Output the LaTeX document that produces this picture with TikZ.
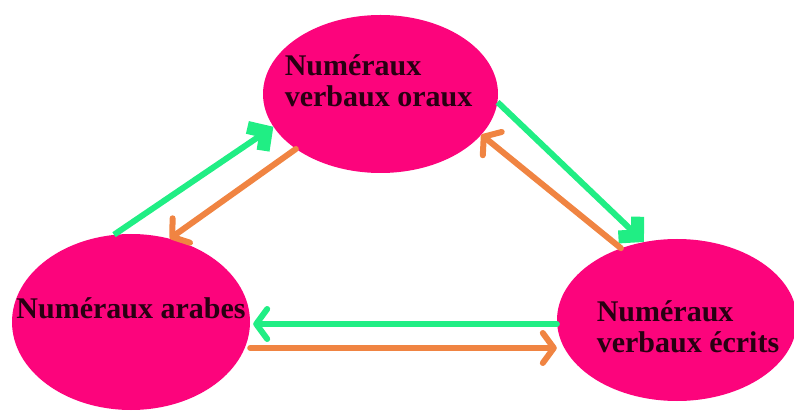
\documentclass[tikz,border=0pt]{standalone}
\usepackage{fontspec}
\setmainfont{Liberation Serif}
\usetikzlibrary{shapes.geometric,arrows.meta}
\definecolor{rose}{RGB}{252,4,124}
\definecolor{vertc}{RGB}{32,238,132}
\definecolor{orangec}{RGB}{240,132,66}
\definecolor{sombre}{RGB}{40,0,18}

\begin{document}
\begin{tikzpicture}[
x=1pt,y=-1pt,
bulle/.style={
fill=rose,
ellipse,
inner sep=0pt
},
titre/.style={
font=\bfseries\fontsize{30}{31}\selectfont,
text=sombre,
align=left,
inner sep=0pt
},
fleche/.style={
line width=6pt,
line cap=round,
-{Straight Barb[length=11pt,width=30pt,round]}
},
gros/.style={
line cap=butt,
-{Straight Barb[length=13pt,width=28pt,line width=13pt]}
}
]
\useasboundingbox (0,0) rectangle (794,411);

\node[bulle, minimum width=235pt, minimum height=158pt] (oraux) at (380.5,94) {};
\node[bulle, minimum width=238pt, minimum height=176pt] (arabes) at (131,322) {};
\node[bulle, minimum width=240pt, minimum height=162pt] (ecrits) at (677,320) {};

% arabes <-> oraux
\draw[fleche, gros, draw=vertc] (arabes.101) -- (oraux.197);
\draw[fleche, draw=orangec] (oraux.213) -- (arabes.65);
% oraux <-> ecrits
\draw[fleche, gros, draw=vertc] (oraux.-4) -- (ecrits.113);
\draw[fleche, draw=orangec] (ecrits.128) -- (oraux.-22);
% ecrits <-> arabes
\draw[fleche, draw=vertc] ([yshift=-4pt]ecrits.west) -- ([yshift=-2pt, xshift=3pt]arabes.east);
\draw[fleche, draw=orangec] ([yshift=-26pt]arabes.east) -- ([yshift=-28pt]ecrits.west);

\node[titre, xshift=-2pt, yshift=13pt] (t-oraux) at (oraux) {Numéraux\\verbaux oraux};
\node[titre, yshift=14pt] (t-arabes) at (arabes) {Numéraux arabes};
\node[titre, xshift=11pt, yshift=-7pt] (t-ecrits) at (ecrits) {Numéraux\\verbaux écrits};

\end{tikzpicture}
\end{document}
